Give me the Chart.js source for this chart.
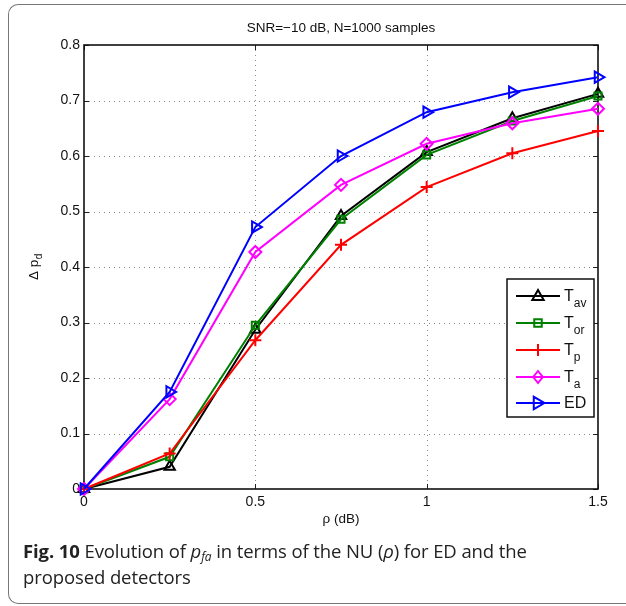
<!DOCTYPE html>
<html>
<head>
<meta charset="utf-8">
<script src="https://cdn.jsdelivr.net/npm/chart.js@4.4.1/dist/chart.umd.min.js"></script>
<style>
  html, body { margin: 0; padding: 0; background: #fff; }
  #wrap { position: relative; width: 626px; height: 606px; overflow: hidden; }
  #frame { position: absolute; left: 8px; top: 4px; width: 700px; height: 598px;
           border: 1px solid #777; border-right: none; border-radius: 10px 0 0 10px; }
  #cv { position: absolute; left: 0; top: 0; }
  #caption { position: absolute; left: 23px; top: 538px; width: 600px;
             font-family: "Open Sans", "Noto Sans", sans-serif; font-size: 18.5px;
             line-height: 26px; color: #222; letter-spacing: -0.1px; }
  #caption sub { font-size: 12px; vertical-align: -3px; line-height: 0; }
</style>
</head>
<body>
<div id="wrap">
  <div id="frame"></div>
  <canvas id="cv" width="626" height="540"></canvas>
  <div id="caption"><b>Fig. 10</b> Evolution of <i>p<sub>fa</sub></i> in terms of the NU (<i>ρ</i>) for ED and the<br>proposed detectors</div>
</div>
<script>
// ---- data ----
const rho = [0, 0.25, 0.5, 0.75, 1, 1.25, 1.5];
const Tav = [0, 0.040, 0.287, 0.492, 0.607, 0.668, 0.712];
const Tor = [0, 0.058, 0.295, 0.486, 0.602, 0.663, 0.708];
const Tp  = [0, 0.064, 0.268, 0.440, 0.544, 0.605, 0.645];
const Ta  = [0, 0.162, 0.427, 0.548, 0.622, 0.659, 0.685];
const ED  = [0, 0.175, 0.472, 0.600, 0.679, 0.715, 0.742];
const xTicks = [0, 0.5, 1, 1.5];
const yTicks = [0, 0.1, 0.2, 0.3, 0.4, 0.5, 0.6, 0.7, 0.8];
const titleText = "SNR=\u221210 dB, N=1000 samples";
const xLabel = "\u03c1 (dB)";
const legendNames = [["T","av"],["T","or"],["T","p"],["T","a"],["ED",""]];

const pts = arr => rho.map((x, i) => ({x: x, y: arr[i]}));

const specs = [
  {data: Tav, color: '#000000', style: 'triangle', rot: 0, order: 5, r: 6},
  {data: Tor, color: '#008000', style: 'rect', rot: 0, order: 4, r: 5},
  {data: Tp,  color: '#ff0000', style: 'cross', rot: 0, order: 3, r: 6},
  {data: Ta,  color: '#ff00ff', style: 'rectRot', rot: 0, order: 2, r: 6},
  {data: ED,  color: '#0000ff', style: 'triangle', rot: 90, order: 1, r: 6.5}
];

const datasets = specs.map((s, i) => ({
  label: legendNames[i].join(''),
  data: pts(s.data),
  borderColor: s.color,
  backgroundColor: 'rgba(0,0,0,0)',
  borderWidth: 2,
  pointStyle: s.style,
  rotation: s.rot,
  pointRadius: s.r,
  pointBorderWidth: 2,
  pointBorderColor: s.color,
  pointBackgroundColor: 'rgba(0,0,0,0)',
  tension: 0,
  order: s.order,
  clip: false
}));

const FONT = '"Liberation Sans", Arial, sans-serif';

function drawMarker(ctx, style, rot, x, y, r, color) {
  ctx.save();
  ctx.strokeStyle = color; ctx.lineWidth = 2;
  ctx.translate(x, y); ctx.rotate(rot * Math.PI / 180);
  ctx.beginPath();
  if (style === 'triangle') {
    ctx.moveTo(0, -r); ctx.lineTo(r * 0.95, r * 0.65); ctx.lineTo(-r * 0.95, r * 0.65); ctx.closePath();
  } else if (style === 'rect') {
    ctx.rect(-r * 0.75, -r * 0.75, r * 1.5, r * 1.5);
  } else if (style === 'cross') {
    ctx.moveTo(0, -r); ctx.lineTo(0, r); ctx.moveTo(-r, 0); ctx.lineTo(r, 0);
  } else if (style === 'rectRot') {
    ctx.moveTo(0, -r); ctx.lineTo(r * 0.8, 0); ctx.lineTo(0, r); ctx.lineTo(-r * 0.8, 0); ctx.closePath();
  }
  ctx.stroke();
  ctx.restore();
}

const framePlugin = {
  id: 'matlabFrame',
  beforeDatasetsDraw(chart) {
    const {ctx, chartArea: a, scales: {x, y}} = chart;
    ctx.save();
    // dotted grid
    ctx.strokeStyle = '#8a8a8a'; ctx.lineWidth = 1; ctx.setLineDash([1, 4]);
    xTicks.forEach(v => {
      const px = Math.round(x.getPixelForValue(v)) + 0.5;
      if (px > a.left + 2 && px < a.right - 2) { ctx.beginPath(); ctx.moveTo(px, a.top); ctx.lineTo(px, a.bottom); ctx.stroke(); }
    });
    yTicks.forEach(v => {
      const py = Math.round(y.getPixelForValue(v)) + 0.5;
      if (py > a.top + 2 && py < a.bottom - 2) { ctx.beginPath(); ctx.moveTo(a.left, py); ctx.lineTo(a.right, py); ctx.stroke(); }
    });
    ctx.setLineDash([]);
    // inward ticks on all four sides
    ctx.strokeStyle = '#222'; ctx.lineWidth = 1;
    const tl = 5;
    xTicks.forEach(v => {
      const px = Math.round(x.getPixelForValue(v)) + 0.5;
      ctx.beginPath(); ctx.moveTo(px, a.bottom); ctx.lineTo(px, a.bottom - tl); ctx.stroke();
      ctx.beginPath(); ctx.moveTo(px, a.top); ctx.lineTo(px, a.top + tl); ctx.stroke();
    });
    yTicks.forEach(v => {
      const py = Math.round(y.getPixelForValue(v)) + 0.5;
      ctx.beginPath(); ctx.moveTo(a.left, py); ctx.lineTo(a.left + tl, py); ctx.stroke();
      ctx.beginPath(); ctx.moveTo(a.right, py); ctx.lineTo(a.right - tl, py); ctx.stroke();
    });
    // box
    ctx.strokeStyle = '#111'; ctx.lineWidth = 1.6;
    ctx.strokeRect(a.left, a.top, a.right - a.left, a.bottom - a.top);
    // title
    ctx.fillStyle = '#111'; ctx.font = '13.5px ' + FONT;
    ctx.textAlign = 'center'; ctx.textBaseline = 'middle';
    ctx.fillText(titleText, (a.left + a.right) / 2, 28);
    // x label
    ctx.fillText(xLabel, (a.left + a.right) / 2, 519);
    // y label: Δ p_d rotated
    ctx.save();
    ctx.translate(34, (a.top + a.bottom) / 2);
    ctx.rotate(-Math.PI / 2);
    ctx.textAlign = 'left'; ctx.textBaseline = 'alphabetic';
    ctx.font = '13.5px ' + FONT;
    const main = '\u0394 p';
    const w = ctx.measureText(main).width;
    ctx.font = '10px ' + FONT;
    const ws = ctx.measureText('d').width;
    const x0 = -(w + ws) / 2;
    ctx.font = '13.5px ' + FONT;
    ctx.fillText(main, x0, 4);
    ctx.font = '10px ' + FONT;
    ctx.fillText('d', x0 + w + 0.5, 8);
    ctx.restore();
    ctx.restore();
  },
  afterDatasetsDraw(chart) {
    const {ctx} = chart;
    ctx.save();
    // legend box
    const L = 507, T = 279, R = 594, B = 417;
    ctx.fillStyle = '#fff'; ctx.fillRect(L, T, R - L, B - T);
    ctx.strokeStyle = '#111'; ctx.lineWidth = 1.5; ctx.strokeRect(L, T, R - L, B - T);
    const rows = [296, 323, 350, 377, 403];
    specs.forEach((s, i) => {
      const yy = rows[i];
      ctx.strokeStyle = s.color; ctx.lineWidth = 2;
      ctx.beginPath(); ctx.moveTo(516, yy); ctx.lineTo(560, yy); ctx.stroke();
      drawMarker(ctx, s.style, s.rot, 538, yy, s.r, s.color);
      ctx.fillStyle = '#111';
      ctx.textAlign = 'left'; ctx.textBaseline = 'alphabetic';
      ctx.font = '16px ' + FONT;
      const [m, sub] = legendNames[i];
      ctx.fillText(m, 564, yy + 5);
      if (sub) {
        const mw = ctx.measureText(m).width;
        ctx.font = '12px ' + FONT;
        ctx.fillText(sub, 564 + mw, yy + 11);
      }
    });
    ctx.restore();
  }
};

new Chart(document.getElementById('cv'), {
  type: 'line',
  data: {datasets: datasets},
  options: {
    responsive: false,
    animation: false,
    devicePixelRatio: 1,
    layout: {padding: {top: 45, right: 28, bottom: 11, left: 0}},
    plugins: {legend: {display: false}, tooltip: {enabled: false}, title: {display: false}},
    scales: {
      x: {
        type: 'linear', min: 0, max: 1.5,
        afterBuildTicks: s => { s.ticks = xTicks.map(v => ({value: v})); },
        afterFit: s => { s.height = 40; },
        grid: {display: false, drawTicks: false},
        border: {display: false},
        ticks: {color: '#111', font: {family: FONT, size: 14}, padding: 5, maxRotation: 0,
                callback: v => String(v)}
      },
      y: {
        type: 'linear', min: 0, max: 0.8,
        afterBuildTicks: s => { s.ticks = yTicks.map(v => ({value: v})); },
        afterFit: s => { s.width = 84; },
        grid: {display: false, drawTicks: false},
        border: {display: false},
        ticks: {color: '#111', font: {family: FONT, size: 14}, padding: 4,
                callback: v => String(Math.round(v * 10) / 10)}
      }
    }
  },
  plugins: [framePlugin]
});
</script>
</body>
</html>
